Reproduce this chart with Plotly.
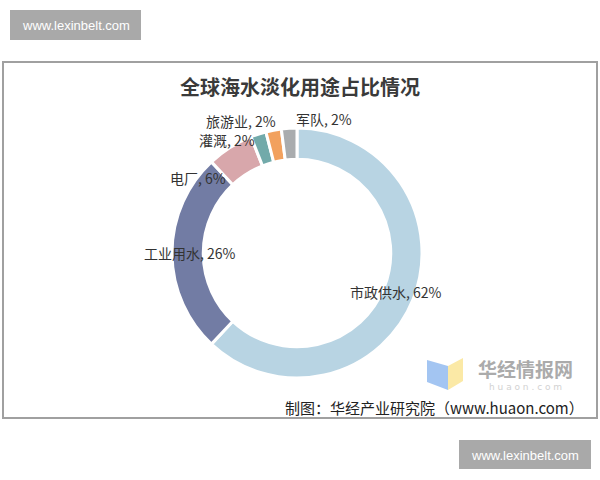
import math
import plotly.graph_objects as go

# ---- data ----
categories = ["市政供水", "工业用水", "电厂", "灌溉", "旅游业", "军队"]
shares = [62, 26, 6, 2, 2, 2]
colors = ["#B8D4E3", "#727CA4", "#D8A7AB", "#72AAAA", "#F2A15E", "#A9ACAE"]
title_text = "全球海水淡化用途占比情况"
source_text = "制图：华经产业研究院（www.huaon.com）"
watermark_text = "www.lexinbelt.com"

# ---- layout helpers (pixel -> paper) ----
W, H = 600, 480
def px(x):
    return x / W
def py(y):
    return 1 - y / H

CX, CY, R = 297, 253, 125
HOLE = 0.75

fig = go.Figure()
fig.add_trace(go.Pie(
    labels=categories,
    values=shares,
    sort=False,
    direction="clockwise",
    rotation=0,
    hole=HOLE,
    textinfo="none",
    hoverinfo="label+percent",
    marker=dict(colors=colors, line=dict(color="white", width=3)),
    domain=dict(x=[px(CX - R), px(CX + R)], y=[py(CY + R), py(CY - R)]),
    showlegend=False,
))

# data labels placed from slice mid-angles
label_radius = 107
label_shift = [(0, 0), (0, 0), (-42, 15), (-37, -11), (-36, -27), (34, -27)]
total = sum(shares)
cum = 0
annotations = []
for name, v, (sx, sy) in zip(categories, shares, label_shift):
    mid = math.radians((cum + v / 2) / total * 360)
    cum += v
    lx = CX + label_radius * math.sin(mid) + sx
    ly = CY - label_radius * math.cos(mid) + sy
    annotations.append(dict(
        x=px(lx), y=py(ly), xref="paper", yref="paper",
        text=f"{name}, {v}%", showarrow=False,
        xanchor="center", yanchor="middle",
        font=dict(family="Noto Sans CJK SC", size=14, color="#333333"),
    ))

# title
annotations.append(dict(
    x=px(300), y=py(86), xref="paper", yref="paper",
    text=f"<b>{title_text}</b>", showarrow=False,
    xanchor="center", yanchor="middle",
    font=dict(family="Noto Sans CJK SC", size=20, color="#3a3a3a"),
))
# source
annotations.append(dict(
    x=px(586), y=py(407), xref="paper", yref="paper",
    text=source_text, showarrow=False,
    xanchor="right", yanchor="middle",
    font=dict(family="Noto Sans CJK SC", size=15, color="#222222"),
))
# logo watermark text
annotations.append(dict(
    x=px(525), y=py(368), xref="paper", yref="paper",
    text="<b>华经情报网</b>", showarrow=False,
    xanchor="center", yanchor="middle",
    font=dict(family="Noto Sans CJK SC", size=19, color="#ababab"),
))
annotations.append(dict(
    x=px(525), y=py(387), xref="paper", yref="paper",
    text="h u a o n . c o m", showarrow=False,
    xanchor="center", yanchor="middle",
    font=dict(family="DejaVu Sans", size=9, color="#d2d2d2"),
))
# site boxes text
annotations.append(dict(
    x=px(75.5), y=py(25), xref="paper", yref="paper",
    text=watermark_text, showarrow=False,
    xanchor="center", yanchor="middle",
    font=dict(family="Liberation Sans", size=13, color="white"),
))
annotations.append(dict(
    x=px(525), y=py(455), xref="paper", yref="paper",
    text=watermark_text, showarrow=False,
    xanchor="center", yanchor="middle",
    font=dict(family="Liberation Sans", size=13, color="white"),
))

def path(points):
    return "M " + " L ".join(f"{px(a)},{py(b)}" for a, b in points) + " Z"

shapes = [
    # chart frame
    dict(type="rect", xref="paper", yref="paper",
         x0=px(3), x1=px(597), y0=py(418), y1=py(62),
         line=dict(color="#a0a0a0", width=2), fillcolor="rgba(0,0,0,0)", layer="below"),
    # site boxes
    dict(type="rect", xref="paper", yref="paper",
         x0=px(10), x1=px(141), y0=py(40), y1=py(10),
         line=dict(width=0), fillcolor="#a9a9a9", layer="below"),
    dict(type="rect", xref="paper", yref="paper",
         x0=px(459), x1=px(591), y0=py(469), y1=py(440),
         line=dict(width=0), fillcolor="#a9a9a9", layer="below"),
    # logo icon
    dict(type="path", xref="paper", yref="paper",
         path=path([(427, 360), (448, 366), (448, 390), (427, 382)]),
         line=dict(width=0), fillcolor="#a3c5f2", layer="below"),
    dict(type="path", xref="paper", yref="paper",
         path=path([(448, 366), (463, 358), (463, 381), (448, 390)]),
         line=dict(width=0), fillcolor="#fbe9a6", layer="below"),
]

fig.update_layout(
    width=W, height=H,
    margin=dict(l=0, r=0, t=0, b=0),
    paper_bgcolor="white",
    plot_bgcolor="white",
    annotations=annotations,
    shapes=shapes,
)

fig.write_html("out.html")
